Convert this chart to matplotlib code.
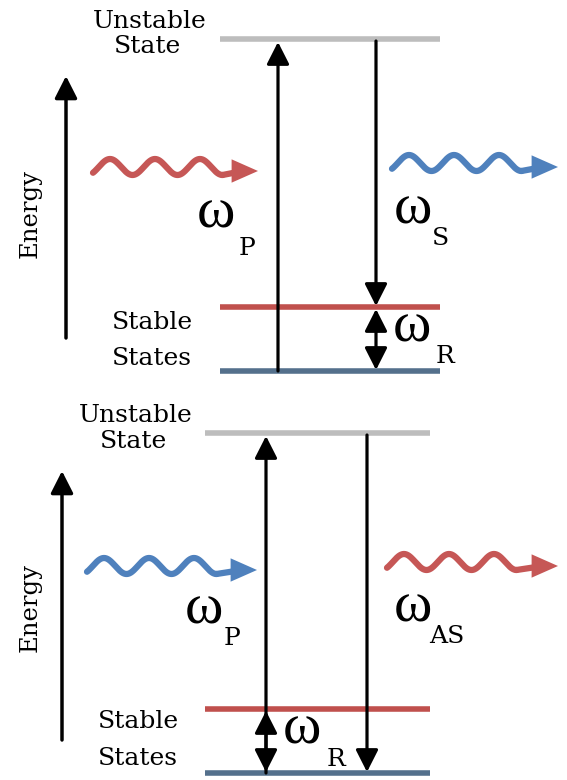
import numpy as np
import matplotlib
matplotlib.use("Agg")
import matplotlib.pyplot as plt
from matplotlib.patches import FancyArrowPatch

# Raman energy diagrams: Stokes (top) and anti-Stokes (bottom)
level_names = ["Unstable", "State", "Stable", "States"]
level_colors = ["#bdbdbd", "#c0504d", "#54708c"]

# energy levels in pixel rows: unstable, excited stable, ground
levels_top = [39, 307, 371]
levels_bottom = [433, 709, 773]
span_top = [220, 440]
span_bottom = [205, 430]

# x of pump (up) and scattered (down) transitions
col_top = [278, 376]
col_bottom = [266, 367]

photon_in = ["#c65756", "#4f81bd"]
photon_out = ["#4f81bd", "#c65756"]
subs = [["P", "S", "R"], ["P", "AS", "R"]]

SERIF = "DejaVu Serif"
GREEK = "Liberation Serif"

fig = plt.figure(figsize=(5.67, 7.8), dpi=100)
ax = fig.add_axes([0, 0, 1, 1])
ax.set_xlim(0, 567)
ax.set_ylim(780, 0)
ax.axis("off")


def arrow(x0, y0, x1, y1, style="-|>", color="black", lw=2.3, ms=18):
    ax.add_patch(FancyArrowPatch((x0, y0), (x1, y1),
                                 arrowstyle=style + ",head_length=0.75,head_width=0.38",
                                 mutation_scale=ms, color=color, lw=lw,
                                 shrinkA=0, shrinkB=0, zorder=3))


def wave(x0, tip, shaft, color):
    # three crests then a straight run into the head
    period, amp = 45.0, 8.0
    crest = x0 + 17
    xw = np.linspace(x0, crest + 2.5 * period, 300)
    yw = (shaft - 4) - amp * np.cos(2 * np.pi * (xw - crest) / period)
    ax.plot(xw, yw, color=color, lw=4.5, solid_capstyle="round")
    ax.plot([xw[-1], tip - 15], [yw[-1], shaft], color=color, lw=4.5,
            solid_capstyle="round")
    ax.add_patch(FancyArrowPatch((tip - 20, shaft), (tip, shaft),
                                 arrowstyle="-|>,head_length=0.95,head_width=0.42",
                                 mutation_scale=20, color=color, lw=0,
                                 shrinkA=0, shrinkB=0))


def panel(levels, span, cols, energy, waves, names, omegas, sub_pos, sub, rcol):
    up_x, dn_x = cols
    for yl, c in zip(levels, level_colors):
        ax.plot(span, [yl, yl], color=c, lw=4, solid_capstyle="butt", zorder=1)

    # state names, one text per line
    for (lx, ly), word in zip(names, level_names):
        ax.text(lx, ly, word, family=SERIF, fontsize=18, ha="center",
                va="baseline")

    # energy axis
    ex, ey0, ey1, ty = energy
    arrow(ex, ey0, ex, ey1, lw=2.5, ms=18)
    ax.text(30, ty, "Energy", family=SERIF, fontsize=17.5, rotation=90,
            ha="center", va="center")

    # pump up arrow, scattered down arrow
    arrow(up_x, levels[2], up_x, levels[0] + 3)
    if rcol == dn_x:
        arrow(dn_x, levels[0] + 2, dn_x, levels[1] - 1)
    else:
        arrow(dn_x, levels[0] + 2, dn_x, levels[2] - 1)
    # Raman shift
    arrow(rcol, levels[1] + 2, rcol, levels[2] - 1, style="<|-|>")

    # photons
    for (x0, tip, shaft), c in zip(waves[0], waves[1]):
        wave(x0, tip, shaft, c)

    for (wx, wy), (sx, sy), s in zip(omegas, sub_pos, sub):
        ax.text(wx, wy, "\u03c9", family=GREEK, fontsize=42, ha="center",
                va="baseline")
        ax.text(sx, sy, s, family=SERIF, fontsize=18, ha="center",
                va="baseline")


panel(levels_top, span_top, col_top, (66, 338, 76, 213),
      ([(93, 258, 171), (392, 558, 167)], [photon_in[0], photon_out[0]]),
      [(150, 28), (148, 53), (152, 329), (152, 365)],
      [(216, 227), (413, 224), (412, 342)],
      [(247, 255), (441, 245), (445, 363)],
      subs[0], col_top[1])

panel(levels_bottom, span_bottom, col_bottom, (62, 740, 471, 607),
      ([(87, 257, 570), (387, 558, 566)], [photon_in[1], photon_out[1]]),
      [(136, 422), (134, 448), (138, 728), (138, 765)],
      [(204, 624), (413, 622), (302, 743)],
      [(232, 645), (447, 643), (336, 766)],
      subs[1], col_bottom[0])

fig.savefig("out.png", dpi=100)
